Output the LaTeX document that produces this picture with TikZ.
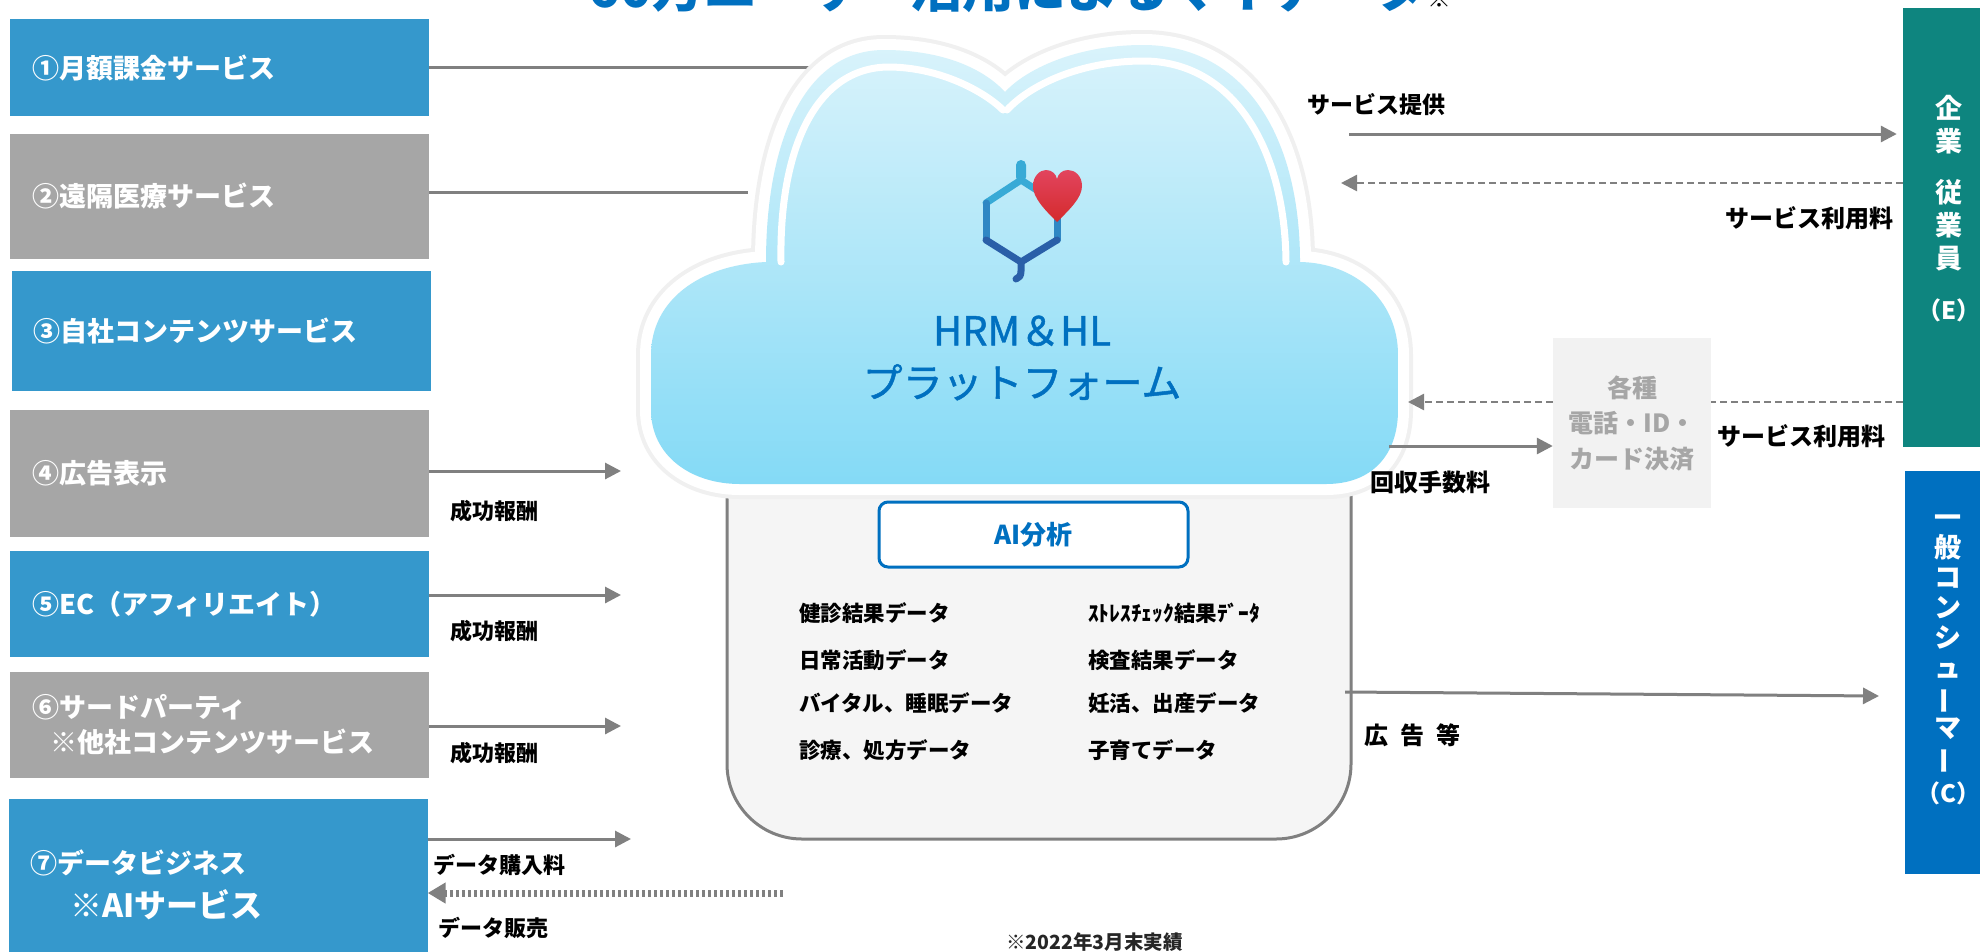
\documentclass[tikz,border=0pt]{standalone}
\usepackage{fontspec}
\setmainfont{Noto Sans CJK JP}
\newfontfamily\medfont{Noto Sans CJK JP}[FakeBold=1.2]
\usepackage{graphicx}
\usepackage{tikz}
\usetikzlibrary{arrows.meta}
\definecolor{svcBlue}{HTML}{3598CC}
\definecolor{svcGray}{HTML}{A6A6A6}
\definecolor{lineGray}{HTML}{808080}
\definecolor{empTeal}{HTML}{0E857F}
\definecolor{conBlue}{HTML}{0070C0}
\definecolor{cloudTop}{HTML}{D9F3FB}
\definecolor{cloudBot}{HTML}{84DAF6}
\definecolor{payFill}{HTML}{F2F2F2}
\definecolor{payText}{HTML}{A6A6A6}
\definecolor{dataFill}{HTML}{F5F5F5}
\definecolor{heartTop}{HTML}{E2445E}
\definecolor{heartBot}{HTML}{D42A2C}
\definecolor{hexTop}{HTML}{38AAD6}
\definecolor{hexMid}{HTML}{2F87C4}
\definecolor{hexBot}{HTML}{2A5FA8}
\newcommand{\pxfont}[1]{\fontsize{#1}{#1}\selectfont}

\begin{document}
\begin{tikzpicture}[x=1pt, y=-1pt,
    svc/.style={minimum width=419pt, text width=375pt, inner xsep=22pt, inner ysep=0pt,
                align=left, text=white, font=\pxfont{27}\bfseries},
    lbl/.style={anchor=west, inner sep=0pt, font=\pxfont{22}\bfseries},
    dt/.style={anchor=west, inner sep=0pt, font=\pxfont{21.5}\bfseries},
    flow/.style={draw=lineGray, line width=3pt, -{Triangle[length=16pt, width=16pt]}},
    link/.style={draw=lineGray, line width=3pt},
    backflow/.style={draw=lineGray, line width=2.5pt, dash pattern=on 7pt off 4pt,
                     -{Triangle[length=16pt, width=16pt]}},
    dotflow/.style={draw=lineGray, line width=7pt, dash pattern=on 3pt off 3pt,
                    -{Triangle[length=18pt, width=20pt]}},
    side/.style={minimum width=87pt, inner sep=0pt},
    vtext/.style={text=white, align=center, inner sep=0pt}]
  \useasboundingbox (0,0) rectangle (1980,951);
  \clip (0,0) rectangle (1980,951);
  \fill[white] (0,0) rectangle (1980,951);

  % heading (runs off the top edge)
  \node[anchor=base, inner sep=0pt, text=conBlue, font=\pxfont{52}\bfseries] (ttl) at (1020,7)
    {60万ユーザー活用によるマイデータ{\color{black}\pxfont{24}※}};

  % revenue sources
  \node[svc, fill=svcBlue, minimum height=97pt] (s1) at (219.5,67.5) {①月額課金サービス};
  \node[svc, fill=svcGray, minimum height=125pt] (s2) at (219.5,196.5) {②遠隔医療サービス};
  \node[svc, fill=svcBlue, minimum height=120pt] (s3) at (221,331) {③自社コンテンツサービス};
  \node[svc, fill=svcGray, minimum height=127pt] (s4) at (219.5,473.5) {④広告表示};
  \node[svc, fill=svcBlue, minimum height=106pt] (s5) at (219.5,604) {⑤EC（アフィリエイト）};
  \node[svc, fill=svcGray, minimum height=106pt] (s6) at (219.5,725)
    {⑥サードパーティ\\[8pt]\hspace*{18pt}※他社コンテンツサービス};
  \node[svc, fill=svcBlue, minimum height=172pt] (s7) at (218,885)
    {⑦データビジネス\\[12pt]\hspace*{40pt}{\pxfont{32}※AIサービス}};

  \coordinate (c1) at (837,67);
  \coordinate (c2) at (748,192);
  \draw[link] (s1.east |- c1) -- (c1);
  \draw[link] (s2.east |- c2) -- (c2);
  \foreach \s/\y/\ty in {4/471/511, 5/595/631, 6/726/753} {
    \coordinate (t\s) at (621,\y);
    \draw[flow] (s\s.east |- t\s) -- (t\s);
    \node[lbl] (k\s) at (450,\ty) {成功報酬};
  }
  \coordinate (t7) at (631,839);
  \coordinate (d7) at (783,893);
  \draw[flow] (s7.east |- t7) -- (t7);
  \draw[dotflow] (d7) -- (s7.east |- d7);
  \node[lbl] (buy) at (433,865) {データ購入料};
  \node[lbl] (sell) at (438,928) {データ販売};

  % data pool under the cloud
  \node[draw=lineGray, line width=3pt, fill=dataFill, rounded corners=75pt,
        minimum width=624pt, minimum height=479pt, inner sep=0pt] (data) at (1039,599.5) {};

  % cloud
  \path[line join=round,
        preaction={draw=black!6, line width=30pt},
        preaction={draw=white, line width=22pt},
        top color=cloudTop, bottom color=cloudBot]
    (740,484) -- (1326,484) .. controls (1372,484) and (1398,455) .. (1398,410)
    -- (1398,355) .. controls (1398,300) and (1355,263) .. (1300,262)
    .. controls (1300,130) and (1240,45) .. (1143,45)
    .. controls (1075,45) and (1025,70) .. (1005,92)
    .. controls (985,70) and (945,50) .. (884,50)
    .. controls (805,50) and (766,140) .. (766,262)
    .. controls (700,265) and (651,300) .. (651,355)
    -- (651,410) .. controls (651,455) and (690,484) .. (740,484) -- cycle;
  \draw[white, line width=7pt, line cap=round]
    (781,262) .. controls (779,150) and (815,68) .. (888,67)
    .. controls (940,67) and (985,92) .. (1003,110);
  \draw[white, line width=7pt, line cap=round]
    (1007,110) .. controls (1030,85) and (1080,61) .. (1143,61)
    .. controls (1233,61) and (1285,148) .. (1286,262);

  % logo
  \begin{scope}[line width=7pt, line cap=round, line join=round]
    \fill[hexTop, rounded corners=5pt] (1016,160) rectangle (1026,182);
    \draw[hexTop] (986,203) -- (1021,180) -- (1057,203);
    \draw[hexMid] (986,203) -- (986,240);
    \draw[hexMid] (1057,203) -- (1057,240);
    \draw[hexBot] (986,240) -- (1021,262) -- (1057,240);
    \draw[hexBot] (1021,262) -- (1021,271) .. controls (1021,276) and (1019,278) .. (1016,279);
  \end{scope}
  \shade[top color=heartTop, bottom color=heartBot]
    (1057,222) .. controls (1045,210) and (1033,198) .. (1033,186)
    .. controls (1033,176) and (1040,170) .. (1046,170)
    .. controls (1052,170) and (1056,174) .. (1057,179)
    .. controls (1058,174) and (1062,170) .. (1068,170)
    .. controls (1075,170) and (1082,176) .. (1082,186)
    .. controls (1082,198) and (1069,210) .. (1057,222) -- cycle;
  \node[inner sep=0pt, align=center, text=conBlue, font=\medfont\pxfont{40}] (hrm) at (1022,358)
    {HRM＆HL\\[12pt]プラットフォーム};

  \node[draw=conBlue, line width=3pt, fill=white, rounded corners=9pt, minimum width=309pt,
        minimum height=65pt, text=conBlue, font=\pxfont{26}\bfseries] (ai) at (1033.5,534.5) {AI分析};
  \foreach \i/\y/\a/\b in {1/613/健診結果データ/ｽﾄﾚｽﾁｪｯｸ結果ﾃﾞｰﾀ, 2/660/日常活動データ/検査結果データ,
                           3/703/バイタル、睡眠データ/妊活、出産データ, 4/750/診療、処方データ/子育てデータ} {
    \node[dt] (da\i) at (799,\y) {\a};
    \node[dt] (db\i) at (1088,\y) {\b};
  }

  % customers
  \node[side, fill=empTeal, minimum height=439pt] (emp) at (1946.5,227.5) {};
  \node[vtext, font=\fontsize{27}{33}\selectfont\bfseries] (emptxt) at (1949,209)
    {企\\業\\[18pt]従\\業\\員\\[18pt]{\pxfont{24}（E）}};
  \node[side, fill=conBlue, minimum height=403pt] (con) at (1948,672.5) {};
  \node[vtext, font=\fontsize{27}{30}\selectfont\bfseries] (contxt) at (1948,660)
    {一\\般\\コ\\ン\\シ\\ュ\\\rotatebox[origin=c]{90}{ー}\\マ\\\rotatebox[origin=c]{90}{ー}\\[5pt]{\pxfont{24}（C）}};
  \node[fill=payFill, minimum width=158pt, minimum height=170pt, inner sep=0pt, align=center,
        text=payText, font=\fontsize{25}{35.5}\selectfont\bfseries] (pay) at (1632,423)
    {各種\\電話・ID・\\カード決済};

  \coordinate (r1) at (1349,134);
  \coordinate (r2) at (1341,183);
  \coordinate (r3) at (1408,402);
  \coordinate (r4) at (1389,446);
  \coordinate (r5) at (1345,692);
  \coordinate (r6) at (1879,696);
  \draw[flow, shorten >=6pt] (r1) -- (r1 -| emp.west);
  \draw[backflow] (r2 -| emp.west) -- (r2);
  \draw[backflow, -] (r3 -| emp.west) -- (r3 -| pay.east);
  \draw[backflow] (r3 -| pay.west) -- (r3);
  \draw[flow] (r4) -- (r4 -| pay.west);
  \draw[flow] (r5) -- (r6);
  \node[lbl, font=\pxfont{23}\bfseries] (prov) at (1307,105) {サービス提供};
  \node[lbl, anchor=east, font=\pxfont{24}\bfseries] (fee1) at (1894,218) {サービス利用料};
  \node[lbl, font=\pxfont{24}\bfseries] (fee2) at (1717,436) {サービス利用料};
  \node[lbl, font=\pxfont{24}\bfseries] (coll) at (1370,482) {回収手数料};
  \node[lbl, font=\pxfont{24}\bfseries] (ad) at (1364,735) {広\hspace{12pt}告\hspace{12pt}等};

  \node[lbl, font=\pxfont{19.5}\bfseries, text=black!85] (note) at (1006,942) {※2022年3月末実績};
\end{tikzpicture}
\end{document}
